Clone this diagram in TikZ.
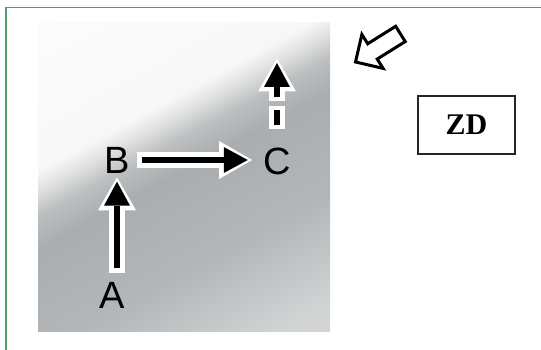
\documentclass[tikz,border=0pt]{standalone}
\usepackage{fontspec}
\setmainfont{Liberation Sans}
\newfontfamily\zdfont{Liberation Serif}
\usetikzlibrary{arrows.meta,calc}
\definecolor{frameg}{HTML}{4E9E72}
\pgfdeclareverticalshading{bgshade}{100bp}{%
  rgb(0bp)=(0.85,0.86,0.855);
  rgb(20bp)=(0.82,0.83,0.83);
  rgb(36bp)=(0.70,0.715,0.725);
  rgb(51bp)=(0.665,0.68,0.69);
  rgb(56bp)=(0.74,0.75,0.755);
  rgb(59bp)=(0.86,0.865,0.865);
  rgb(62.5bp)=(0.97,0.97,0.97);
  rgb(100bp)=(1,1,1)}
\begin{document}
\begin{tikzpicture}[x=1pt,y=-1pt,
  lbl/.style={font=\fontsize{38}{38}\selectfont, inner sep=0pt, text=black},
  blk/.style={draw=black, line width=6pt, -{Triangle[length=24pt,width=26pt,line width=0pt]}},
  halo/.style={draw=white, line width=16pt, -{Triangle[length=33pt,width=38pt,line width=0pt]}},
  hollow/.style={draw=black, line width=3pt, line join=miter, fill=white},
  zdbox/.style={draw=black!85, line width=1.4pt, minimum width=97pt, minimum height=58pt, inner sep=0pt,
    font=\zdfont\bfseries\fontsize{30}{30}\selectfont}]
\useasboundingbox (0,0) rectangle (541,350);
\draw[frameg, line width=1.5pt] (6,351) -- (6,7.5) -- (542,7.5);
\shade[shading=bgshade, shading angle=28.5] (38,23) rectangle (330,331);
\node[lbl] (B) at (117,160) {B};
\node[lbl] (C) at (277,161) {C};
\node[lbl] (A) at (112,295) {A};
\coordinate (Ctop) at (277,63);
% halos
\draw[halo, shorten <=8.4pt, shorten >=4pt] (B.south |- A.north) -- (B.south);
\draw[halo, shorten <=7.3pt, shorten >=11pt] (B.east) -- (C.west |- B.east);
\draw[halo, shorten <=18pt, shorten >=-4.5pt, dash pattern=on 23pt off 5pt on 300pt] (C.north) -- (Ctop);
% arrows
\draw[blk, shorten <=13.4pt, shorten >=8.4pt] (B.south |- A.north) -- (B.south);
\draw[blk, shorten <=12.3pt, shorten >=15.3pt] (B.east) -- (C.west |- B.east);
\draw[blk, shorten <=22pt, dash pattern=on 15pt off 13pt on 300pt] (C.north) -- (Ctop);
% hollow arrow
\begin{scope}[shift={(355.5,62)}, rotate=32]
\draw[hollow] (0,0) -- (20,20) -- (20,9) -- (53,9) -- (53,-9) -- (20,-9) -- (20,-20) -- cycle;
\end{scope}
\node[zdbox] (ZD) at (466.5,125) {ZD};
\end{tikzpicture}
\end{document}
